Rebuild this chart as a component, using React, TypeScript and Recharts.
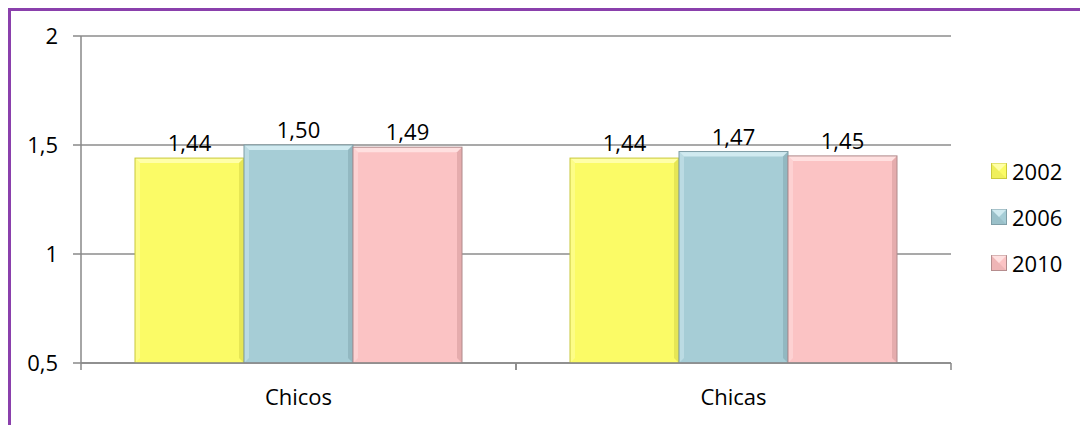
import { BarChart, Bar, XAxis, YAxis, CartesianGrid, LabelList } from 'recharts';

const categories = ['Chicos', 'Chicas'];
const years = ['2002', '2006', '2010'];
const values2002 = [1.44, 1.44];
const values2006 = [1.5, 1.47];
const values2010 = [1.49, 1.45];
const yTicks = [0.5, 1, 1.5, 2];

const colors: Record<string, { fill: string; light: string; dark: string; edge: string }> = {
  '2002': { fill: '#fbfb66', light: '#ffffa8', dark: '#d9d94a', edge: '#c8c83a' },
  '2006': { fill: '#a6cdd6', light: '#d0eaf0', dark: '#85aab3', edge: '#7f9da6' },
  '2010': { fill: '#fbc3c4', light: '#ffe0e0', dark: '#d79c9e', edge: '#b08a8b' },
};

const data = categories.map((name, i) => ({
  name,
  '2002': values2002[i],
  '2006': values2006[i],
  '2010': values2010[i],
}));

const FONT = '"Open Sans", sans-serif';
const FS = 22;
const fmt = (v: any) => Number(v).toFixed(2).replace('.', ',');

// flat bar with a soft bevelled edge
const BevelBar = (props: any) => {
  const { x, y, width, height, year } = props;
  const c = colors[year];
  const b = 5;
  if (!height || height <= 0) return null;
  return (
    <g>
      <rect x={x} y={y} width={width} height={height} fill={c.fill} />
      <polygon points={`${x},${y} ${x + width},${y} ${x + width - b},${y + b} ${x + b},${y + b}`} fill={c.light} />
      <polygon points={`${x},${y} ${x + b},${y + b} ${x + b},${y + height - b} ${x},${y + height}`} fill={c.light} opacity={0.5} />
      <polygon points={`${x + width},${y} ${x + width},${y + height} ${x + width - b},${y + height - b} ${x + width - b},${y + b}`} fill={c.dark} opacity={0.6} />
      <rect x={x} y={y} width={width} height={height} fill="none" stroke={c.edge} strokeWidth={1} />
    </g>
  );
};

const CategoryTick = (props: any) => {
  const { x, y, payload } = props;
  const half = payload?.offset ?? 217.5;
  return (
    <g>
      <line x1={x - half} y1={y - 8} x2={x - half} y2={y - 1} stroke="#888" strokeWidth={1.5} />
      <line x1={x + half} y1={y - 8} x2={x + half} y2={y - 1} stroke="#888" strokeWidth={1.5} />
      <text x={x} y={y + 34} textAnchor="middle" fontFamily={FONT} fontSize={FS} fill="#000">
        {payload.value}
      </text>
    </g>
  );
};

const LegendBox = () => (
  <div style={{ position: 'absolute', left: 991, top: 148, fontFamily: FONT, fontSize: FS, color: '#000' }}>
    {years.map((yr) => (
      <div key={yr} style={{ display: 'flex', alignItems: 'center', height: 46 }}>
        <svg width={16} height={16} style={{ marginRight: 5 }}>
          <rect x={0.5} y={0.5} width={15} height={15} fill={colors[yr].fill} stroke={colors[yr].edge} />
          <polygon points="0.5,0.5 15.5,15.5 0.5,15.5" fill={colors[yr].dark} opacity={0.35} />
          <polygon points="0.5,0.5 15.5,0.5 8,8" fill={colors[yr].light} />
        </svg>
        <span>{yr}</span>
      </div>
    ))}
  </div>
);

export default function App() {
  return (
    <div style={{ position: 'absolute', left: 0, top: 0, width: 1080, height: 425, background: '#fff', overflow: 'hidden' }}>
      <div
        style={{
          position: 'absolute',
          left: 8,
          top: 8,
          width: 1080,
          height: 425,
          borderTop: '3px solid #8a40ac',
          borderLeft: '3px solid #8a40ac',
        }}
      />
      <div style={{ position: 'absolute', left: 0, top: 0 }}>
        <BarChart
          width={1080}
          height={425}
          data={data}
          margin={{ top: 36, right: 129, bottom: 22, left: 0 }}
          barCategoryGap={54}
          barGap={0}
        >
          <CartesianGrid vertical={false} stroke="#8c8c8c" strokeWidth={1.5} />
          <XAxis
            dataKey="name"
            height={40}
            axisLine={{ stroke: '#888', strokeWidth: 1.5 }}
            tickLine={false}
            tick={<CategoryTick />}
            interval={0}
          />
          <YAxis
            width={81}
            domain={[0.5, 2]}
            ticks={yTicks}
            tickFormatter={(v: number) => String(v).replace('.', ',')}
            axisLine={{ stroke: '#888', strokeWidth: 1.5 }}
            tickLine={{ stroke: '#888', strokeWidth: 1.5 }}
            tickSize={8}
            tickMargin={15}
            tick={{ fill: '#000', fontFamily: FONT, fontSize: FS }}
            allowDataOverflow
          />
          {years.map((yr) => (
            <Bar key={yr} dataKey={yr} isAnimationActive={false} shape={(p: any) => <BevelBar {...p} year={yr} />}>
              <LabelList
                dataKey={yr}
                position="top"
                offset={7}
                formatter={fmt}
                fill="#000"
                fontFamily={FONT}
                fontSize={FS}
              />
            </Bar>
          ))}
        </BarChart>
      </div>
      <LegendBox />
    </div>
  );
}
